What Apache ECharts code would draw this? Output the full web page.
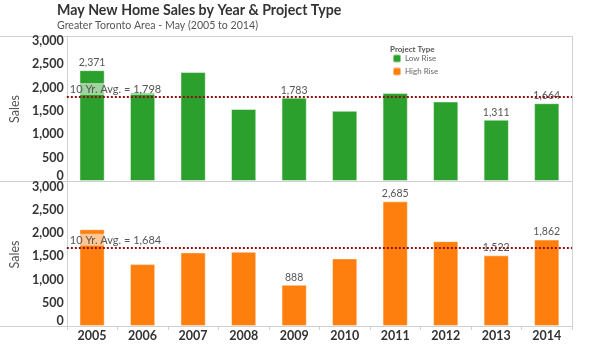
<!DOCTYPE html>
<html><head><meta charset="utf-8">
<script src="https://cdn.jsdelivr.net/npm/echarts@6/dist/echarts.min.js"></script>
<style>html,body{margin:0;padding:0;background:#fff}#c{width:600px;height:354px}</style>
</head><body><div id="c"></div>
<script>
var years = ['2005','2006','2007','2008','2009','2010','2011','2012','2013','2014'];
var lowRise = [2371,1900,2330,1540,1783,1500,1880,1701,1311,1664];
var highRise = [2083,1333,1585,1598,888,1456,2685,1828,1522,1862];
var lowLabelShow = [true,false,false,false,true,false,false,false,true,true];
var highLabelShow = [false,false,false,false,true,false,true,false,true,true];
var seriesNames = ['Low Rise','High Rise'];
var colors = ['#2ca02c','#ff7f0e'];
var titleText = 'May New Home Sales by Year & Project Type';
var subtitleText = 'Greater Toronto Area - May (2005 to 2014)';
var legendTitle = 'Project Type';

var FONT = 'Lato';
function fmt(v){ return Math.round(v).toLocaleString('en-US'); }
function withLabels(vals, flags){
  return vals.map(function(v,i){ return {value:v, label:{show:flags[i]}}; });
}
function yAxis(idx){
  return {
    type:'value', gridIndex:idx, min:0, max:3080, interval:500,
    name:'Sales', nameLocation:'middle', nameGap:38, nameRotate:90,
    nameTextStyle:{fontFamily:FONT, fontSize:12.5, color:'#555'},
    axisLine:{show:true, lineStyle:{color:'#d0d0d0'}},
    axisTick:{show:false}, splitLine:{show:false},
    axisLabel:{showMaxLabel:false, fontFamily:FONT, fontWeight:'bold', fontSize:12.5, color:'#333', margin:3,
      formatter:function(v){ return v===0 ? '{z|0}' : fmt(v); },
      rich:{z:{fontFamily:FONT, fontWeight:'bold', fontSize:12.5, color:'#333', padding:[0,0,11,0]}}}
  };
}
function markLine(){
  return {
    silent:true, symbol:'none',
    data:[{type:'average'}],
    lineStyle:{type:'dotted', color:'#8e1010', width:2},
    label:{position:'insideStartTop', distance:2, fontFamily:FONT, fontSize:11, color:'#555',
      backgroundColor:'rgba(255,255,255,0.55)', padding:[1,2,0,1],
      formatter:function(p){ return '10 Yr. Avg. = ' + fmt(p.value); }}
  };
}
function barSeries(idx, vals, flags){
  return {
    type:'bar', name:seriesNames[idx], xAxisIndex:idx, yAxisIndex:idx,
    data:withLabels(vals, flags), barWidth:'50%',
    itemStyle:{color:colors[idx], borderColor:'rgba(255,255,255,0.45)', borderWidth:1},
    label:{position:'top', distance:2, fontFamily:FONT, fontSize:10.5, color:'#555', formatter:function(p){return fmt(p.value);}},
    markLine:markLine()
  };
}
var chart = echarts.init(document.getElementById('c'));
chart.setOption({
  animation:false,
  title:[
    {text:titleText, left:57, top:3, padding:0, textStyle:{fontFamily:FONT, fontWeight:'bold', fontSize:14.2, color:'#333'}},
    {text:subtitleText, left:57, top:20, padding:0, textStyle:{fontFamily:FONT, fontWeight:'normal', fontSize:10.6, color:'#555'}}
  ],
  legend:{
    orient:'vertical', left:392, top:53.5, padding:0, itemWidth:8, itemHeight:8, itemGap:3,
    data:seriesNames, textStyle:{fontFamily:FONT, fontSize:8, color:'#666', padding:[0,0,0,-1]}
  },
  graphic:[
    {type:'text', left:390, top:45, style:{text:legendTitle, font:'bold 8px Lato', fill:'#555'}},
    {type:'line', shape:{x1:0,y1:36.5,x2:572,y2:36.5}, style:{stroke:'#d0d0d0', lineWidth:1}},
    {type:'line', shape:{x1:0,y1:181.5,x2:572,y2:181.5}, style:{stroke:'#d0d0d0', lineWidth:1}},
    {type:'line', shape:{x1:0,y1:326.5,x2:572,y2:326.5}, style:{stroke:'#d0d0d0', lineWidth:1}},
    {type:'line', shape:{x1:572.5,y1:36,x2:572.5,y2:330}, style:{stroke:'#d0d0d0', lineWidth:1}}
  ],
  grid:[
    {left:55, right:28, top:37, height:144},
    {left:55, right:28, top:183, height:143}
  ],
  xAxis:[
    {type:'category', gridIndex:0, data:years, axisLine:{show:false}, axisTick:{show:false}, axisLabel:{show:false}},
    {type:'category', gridIndex:1, data:years, axisLine:{show:false},
     axisTick:{show:true, length:4, lineStyle:{color:'#d0d0d0'}},
     axisLabel:{fontFamily:FONT, fontWeight:'bold', fontSize:12.5, color:'#333', margin:3}}
  ],
  yAxis:[yAxis(0), yAxis(1)],
  series:[barSeries(0, lowRise, lowLabelShow), barSeries(1, highRise, highLabelShow)]
});
</script>
</body></html>
